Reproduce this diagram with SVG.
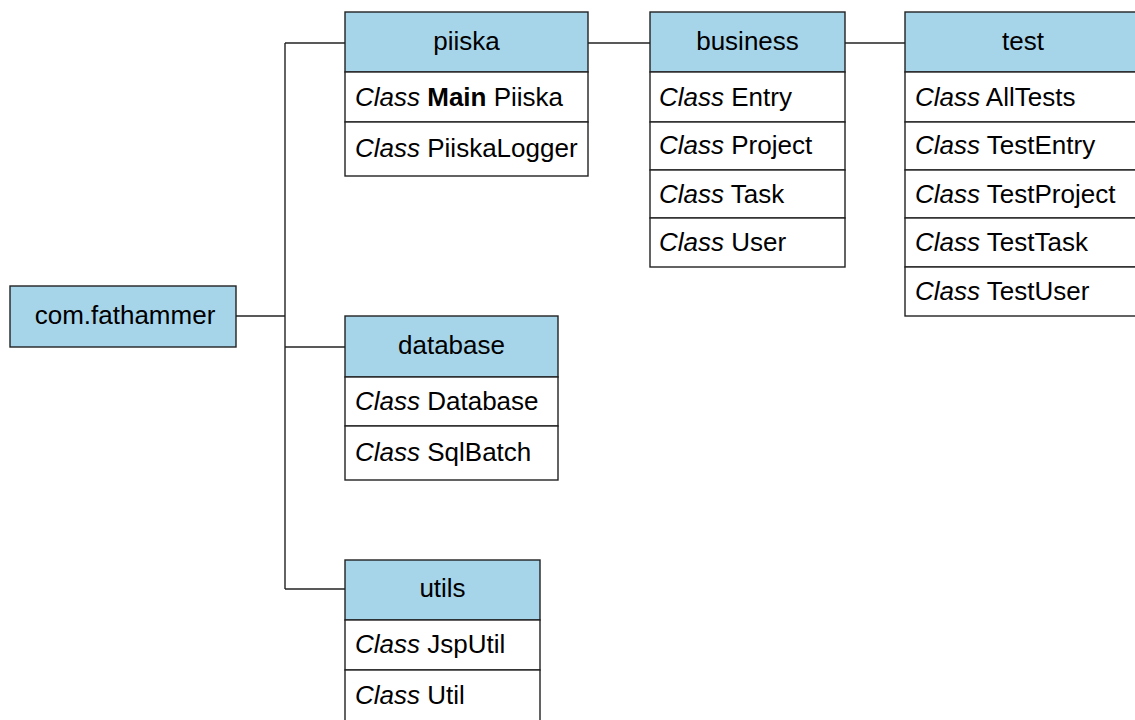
<svg xmlns="http://www.w3.org/2000/svg" width="1135" height="720" viewBox="0 0 1135 720">
  <style>
    .hd { fill: #a6d5ea; stroke: #222; stroke-width: 1.4; }
    .row { fill: #ffffff; stroke: #222; stroke-width: 1.4; }
    .conn { fill: none; stroke: #222; stroke-width: 1.4; }
    text { font-family: "Liberation Sans", Arial, sans-serif; font-size: 26px; fill: #000; }
    .c { text-anchor: middle; }
    .i { font-style: italic; }
    .b { font-weight: bold; }
  </style>
  <rect width="1135" height="720" fill="#ffffff"/>

  <!-- connectors -->
  <g id="connectors">
    <path class="conn" d="M236 316 H285"/>
    <path class="conn" d="M285 43 V589"/>
    <path class="conn" d="M285 43 H345"/>
    <path class="conn" d="M285 347 H345"/>
    <path class="conn" d="M285 589 H345"/>
    <path class="conn" d="M588 43 H650"/>
    <path class="conn" d="M845 43 H905"/>
  </g>

  <!-- root package -->
  <g id="node-root">
    <rect class="hd" x="10" y="286" width="226" height="61"/>
    <text class="c" x="125" y="324">com.fathammer</text>
  </g>

  <!-- piiska package -->
  <g id="node-piiska">
    <rect class="hd" x="345" y="12" width="243" height="60"/>
    <rect class="row" x="345" y="72" width="243" height="50"/>
    <rect class="row" x="345" y="122" width="243" height="54"/>
    <text class="c" x="466.5" y="50">piiska</text>
    <text x="355" y="106"><tspan class="i">Class</tspan> <tspan class="b">Main</tspan> Piiska</text>
    <text x="355" y="157"><tspan class="i">Class</tspan> PiiskaLogger</text>
  </g>

  <!-- business package -->
  <g id="node-business">
    <rect class="hd" x="650" y="12" width="195" height="60"/>
    <rect class="row" x="650" y="72" width="195" height="50"/>
    <rect class="row" x="650" y="122" width="195" height="48"/>
    <rect class="row" x="650" y="170" width="195" height="48"/>
    <rect class="row" x="650" y="218" width="195" height="49"/>
    <text class="c" x="747.5" y="50">business</text>
    <text x="659" y="106"><tspan class="i">Class</tspan> Entry</text>
    <text x="659" y="154"><tspan class="i">Class</tspan> Project</text>
    <text x="659" y="203"><tspan class="i">Class</tspan> Task</text>
    <text x="659" y="251"><tspan class="i">Class</tspan> User</text>
  </g>

  <!-- test package -->
  <g id="node-test">
    <rect class="hd" x="905" y="12" width="240" height="60"/>
    <rect class="row" x="905" y="72" width="240" height="50"/>
    <rect class="row" x="905" y="122" width="240" height="48"/>
    <rect class="row" x="905" y="170" width="240" height="48"/>
    <rect class="row" x="905" y="218" width="240" height="49"/>
    <rect class="row" x="905" y="267" width="240" height="49"/>
    <text class="c" x="1023" y="50">test</text>
    <text x="915" y="106"><tspan class="i">Class</tspan> AllTests</text>
    <text x="915" y="154"><tspan class="i">Class</tspan> TestEntry</text>
    <text x="915" y="203"><tspan class="i">Class</tspan> TestProject</text>
    <text x="915" y="251"><tspan class="i">Class</tspan> TestTask</text>
    <text x="915" y="300"><tspan class="i">Class</tspan> TestUser</text>
  </g>

  <!-- database package -->
  <g id="node-database">
    <rect class="hd" x="345" y="316" width="213" height="61"/>
    <rect class="row" x="345" y="377" width="213" height="49"/>
    <rect class="row" x="345" y="426" width="213" height="54"/>
    <text class="c" x="451.5" y="354">database</text>
    <text x="355" y="410"><tspan class="i">Class</tspan> Database</text>
    <text x="355" y="461"><tspan class="i">Class</tspan> SqlBatch</text>
  </g>

  <!-- utils package -->
  <g id="node-utils">
    <rect class="hd" x="345" y="560" width="195" height="60"/>
    <rect class="row" x="345" y="620" width="195" height="50"/>
    <rect class="row" x="345" y="670" width="195" height="60"/>
    <text class="c" x="442.5" y="597">utils</text>
    <text x="355" y="653"><tspan class="i">Class</tspan> JspUtil</text>
    <text x="355" y="704"><tspan class="i">Class</tspan> Util</text>
  </g>
</svg>
